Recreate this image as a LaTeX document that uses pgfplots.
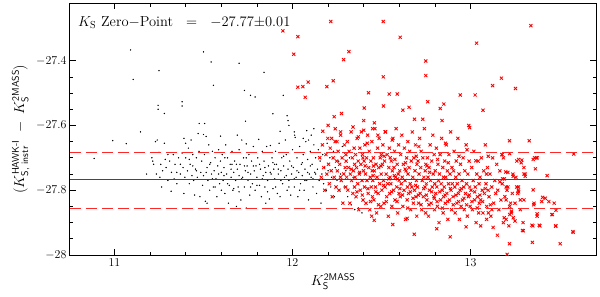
\documentclass[border=0pt]{standalone}
\usepackage{amsmath}
\usepackage{pgfplots}
\pgfplotsset{compat=1.18}
\definecolor{zpred}{RGB}{255,0,0}
\definecolor{zpline}{RGB}{240,0,0}
\definecolor{zpdash}{RGB}{255,40,40}
\begin{document}
\begin{tikzpicture}
\begin{axis}[name=ax,width=526pt,height=252pt,scale only axis,
  xmin=10.75,xmax=13.705,ymin=-28,ymax=-27.222,
  xtick={11,12,13},minor x tick num=4,
  ytick={-28,-27.8,-27.6,-27.4},minor y tick num=3,
  tick pos=both,tick align=inside,major tick length=6pt,minor tick length=3.5pt,
  every tick/.style={black,line width=0.7pt},axis line style={line width=1pt},
  yticklabel style={/pgf/number format/fixed,/pgf/number format/precision=1},
  tick label style={font=\fontsize{12}{14}\selectfont},
  label style={font=\fontsize{14}{16}\selectfont},
  xlabel={$K_{\text{\sffamily S}}^{\text{\sffamily 2MASS}}$},
  ylabel={$(K^{\text{\sffamily HAWK-I}}_{\text{\sffamily S, instr}}\;-\;K^{\text{\sffamily 2MASS}}_{\text{\sffamily S}})$},
  clip=true]
% black: stars fainter than the cut
\addplot[only marks,mark=*,mark size=0.45pt,black] coordinates {
(10.886,-27.702) (10.99,-27.647) (11.066,-27.656) (11.09,-27.367) (11.105,-27.458) (11.146,-27.62) (11.18,-27.75) (11.25,-27.431) (11.245,-27.538) (11.245,-27.55) (11.28,-27.563) (11.38,-27.527) (11.38,-27.54) (11.5,-27.373) (11.543,-27.404) (11.556,-27.476) (11.70,-27.408) (11.84,-27.436) (11.73,-27.492) (11.764,-27.507) (11.79,-27.512) (11.948,-27.507) (11.89,-27.564) (11.97,-27.57) (11.975,-27.585) (11.98,-27.60) (11.93,-27.618) (12.01,-27.62) (12.012,-27.63) (11.476,-27.594) (11.736,-27.587) (11.506,-27.594)
(12.12,-27.61) (12.105,-27.63) (12.09,-27.645) (12.06,-27.64) (12.08,-27.616)
(11.21,-27.70) (11.215,-27.71) (11.22,-27.72) (11.23,-27.65) (11.24,-27.645) (11.25,-27.683) (11.26,-27.72) (11.27,-27.74) (11.255,-27.76) (11.28,-27.655) (11.29,-27.73) (11.3,-27.77) (11.265,-27.79) (11.3,-27.69) (11.235,-27.75)
(11.31,-27.71) (11.318,-27.803) (11.32,-27.745) (11.33,-27.69) (11.335,-27.765) (11.34,-27.72) (11.35,-27.78) (11.36,-27.70) (11.37,-27.75) (11.38,-27.685) (11.385,-27.73) (11.39,-27.81) (11.39,-27.64) (11.395,-27.76) (11.40,-27.655) (11.40,-27.70)
(11.41,-27.74) (11.415,-27.67) (11.42,-27.78) (11.425,-27.72) (11.43,-27.645) (11.435,-27.755) (11.44,-27.69) (11.445,-27.77) (11.45,-27.815) (11.455,-27.735) (11.46,-27.70) (11.465,-27.76) (11.47,-27.625) (11.475,-27.68) (11.48,-27.82) (11.485,-27.745) (11.49,-27.71) (11.495,-27.785) (11.5,-27.755)
(11.50,-27.628) (11.505,-27.69) (11.51,-27.834) (11.515,-27.634) (11.52,-27.84) (11.52,-27.73) (11.525,-27.77) (11.53,-27.66) (11.535,-27.80) (11.54,-27.715) (11.545,-27.75) (11.55,-27.68) (11.555,-27.79) (11.56,-27.74) (11.565,-27.70) (11.57,-27.765) (11.575,-27.82) (11.58,-27.725) (11.585,-27.675) (11.59,-27.78) (11.596,-27.633) (11.60,-27.745) (11.595,-27.71)
(11.605,-27.69) (11.61,-27.77) (11.615,-27.73) (11.62,-27.81) (11.625,-27.66) (11.63,-27.75) (11.635,-27.70) (11.64,-27.84) (11.645,-27.785) (11.65,-27.72) (11.655,-27.76) (11.66,-27.68) (11.665,-27.80) (11.67,-27.745) (11.675,-27.71) (11.68,-27.77) (11.685,-27.85) (11.69,-27.63) (11.69,-27.735) (11.695,-27.79) (11.70,-27.675) (11.70,-27.755)
(11.705,-27.72) (11.71,-27.83) (11.715,-27.645) (11.72,-27.76) (11.725,-27.70) (11.73,-27.79) (11.735,-27.74) (11.74,-27.657) (11.74,-27.855) (11.745,-27.725) (11.75,-27.77) (11.755,-27.69) (11.76,-27.815) (11.765,-27.75) (11.77,-27.71) (11.775,-27.78) (11.78,-27.665) (11.785,-27.74) (11.79,-27.80) (11.795,-27.725) (11.80,-27.76)
(11.805,-27.70) (11.81,-27.643) (11.815,-27.785) (11.82,-27.735) (11.825,-27.82) (11.83,-27.68) (11.835,-27.755) (11.84,-27.71) (11.845,-27.79) (11.85,-27.745) (11.855,-27.665) (11.86,-27.77) (11.865,-27.725) (11.87,-27.827) (11.876,-27.662) (11.88,-27.75) (11.885,-27.70) (11.89,-27.795) (11.895,-27.735) (11.90,-27.765) (11.85,-27.84)
(11.905,-27.68) (11.91,-27.72) (11.915,-27.81) (11.92,-27.75) (11.925,-27.655) (11.93,-27.82) (11.935,-27.74) (11.94,-27.70) (11.945,-27.78) (11.95,-27.725) (11.955,-27.76) (11.96,-27.645) (11.965,-27.69) (11.97,-27.80) (11.975,-27.735) (11.98,-27.77) (11.985,-27.71) (11.99,-27.815) (11.995,-27.75) (12.00,-27.675)
(12.005,-27.73) (12.01,-27.79) (12.015,-27.637) (12.02,-27.76) (12.025,-27.70) (12.03,-27.82) (12.035,-27.745) (12.04,-27.665) (12.045,-27.78) (12.05,-27.72) (12.055,-27.755) (12.06,-27.69) (12.065,-27.80) (12.07,-27.735) (12.075,-27.65) (12.08,-27.77) (12.085,-27.705) (12.09,-27.83) (12.095,-27.75) (12.10,-27.68)
(12.105,-27.76) (12.11,-27.72) (12.115,-27.79) (12.12,-27.66) (12.125,-27.745) (12.13,-27.70) (12.135,-27.81) (12.14,-27.735) (12.145,-27.675) (12.15,-27.77) (12.155,-27.71) (12.16,-27.84) (12.165,-27.75) (12.17,-27.69) (12.175,-27.78) (12.18,-27.73) (12.19,-27.80) (12.195,-27.655)
(12.2,-27.74) (12.21,-27.70) (12.215,-27.79) (12.22,-27.76) (12.23,-27.68) (12.235,-27.82) (12.24,-27.73) (12.25,-27.77) (12.26,-27.71) (12.265,-27.80) (12.27,-27.75) (12.28,-27.665) (12.29,-27.79) (12.30,-27.74) (12.31,-27.82) (12.32,-27.70) (12.33,-27.845) (12.34,-27.76) (12.35,-27.86) (12.37,-27.855) (12.39,-27.87)
(11.515,-27.745) (11.535,-27.72) (11.55,-27.765) (11.565,-27.79) (11.585,-27.75) (11.60,-27.80) (11.615,-27.755) (11.635,-27.78) (11.655,-27.735) (11.67,-27.795)
(11.685,-27.72) (11.70,-27.805) (11.715,-27.765) (11.73,-27.725) (11.75,-27.745) (11.765,-27.79) (11.78,-27.725) (11.80,-27.785) (11.815,-27.72) (11.83,-27.765)
(11.845,-27.73) (11.86,-27.805) (11.875,-27.745) (11.89,-27.715) (11.905,-27.79) (11.92,-27.735) (11.935,-27.77) (11.95,-27.695) (11.965,-27.755) (11.98,-27.79)
(11.995,-27.725) (12.01,-27.765) (12.025,-27.74) (12.04,-27.80) (12.055,-27.715) (12.07,-27.77) (12.085,-27.745) (12.10,-27.725) (12.115,-27.765) (12.13,-27.75)
(11.44,-27.725) (11.46,-27.74) (11.42,-27.705) (11.37,-27.72) (11.35,-27.745) (11.285,-27.705) (11.62,-27.70) (11.66,-27.72) (11.74,-27.70) (11.90,-27.72)
};
% red: stars used for the zero point
\addplot[only marks,mark=x,mark size=2.2pt,zpred,mark options={line width=0.85pt}] coordinates {
(11.946,-27.308) (12.007,-27.38) (12.03,-27.326) (12.03,-27.482) (12.215,-27.279) (12.51,-27.279) (13.339,-27.292) (12.605,-27.328) (13.034,-27.346) (12.317,-27.372) (12.287,-27.397) (12.749,-27.401) (12.749,-27.446) (12.51,-27.45) (13.174,-27.454) (13.124,-27.477) (13.253,-27.486) (12.058,-27.48) (12.088,-27.466) (12.071,-27.513) (12.193,-27.48) (12.229,-27.462) (12.427,-27.499) (12.543,-27.503) (12.588,-27.503) (12.942,-27.506) (13.026,-27.506) (12.76,-27.527) (12.85,-27.534) (12.83,-27.548) (13.07,-27.553) (12.403,-27.546) (12.511,-27.54) (12.62,-27.553) (12.655,-27.544) (12.275,-27.563) (12.234,-27.573) (12.40,-27.585) (12.46,-27.592) (12.685,-27.581) (12.732,-27.581) (12.84,-27.585) (12.99,-27.60) (12.995,-27.607) (13.219,-27.647) (13.33,-27.647)
(12.684,-27.936) (12.81,-27.919) (12.886,-27.944) (12.563,-27.906) (12.644,-27.887) (12.459,-27.893) (12.445,-27.88) (12.975,-27.913) (13.057,-27.91) (13.127,-27.915) (13.151,-27.939) (13.219,-27.965) (13.206,-27.998) (13.292,-27.924) (13.348,-27.961) (13.345,-27.908) (13.386,-27.908) (13.504,-27.965) (13.478,-27.911) (13.575,-27.928) (13.457,-27.875) (13.48,-27.862) (13.42,-27.825) (13.40,-27.835) (13.374,-27.873) (13.357,-27.84) (13.43,-27.755) (13.352,-27.799) (13.58,-27.688) (13.374,-27.70) (13.352,-27.705) (13.307,-27.75) (13.307,-27.757) (13.238,-27.75) (13.198,-27.744) (13.22,-27.687) (13.288,-27.707) (13.176,-27.69) (13.10,-27.695) (13.03,-27.709) (13.09,-27.75) (13.165,-27.774) (13.27,-27.79) (13.268,-27.80) (13.265,-27.81) (13.30,-27.83) (13.25,-27.84) (13.28,-27.83) (13.22,-27.85) (13.23,-27.865) (13.22,-27.875) (13.24,-27.885) (13.19,-27.885) (13.20,-27.89) (13.185,-27.90) (13.12,-27.86) (13.10,-27.87) (13.09,-27.89)
(13.178,-27.69) (13.27,-27.705) (13.285,-27.715) (13.30,-27.73) (13.36,-27.70) (13.37,-27.70) (13.365,-27.734) (13.21,-27.745) (13.24,-27.757) (13.30,-27.75) (13.18,-27.765) (13.19,-27.765) (13.2,-27.79) (13.205,-27.80) (13.26,-27.79) (13.27,-27.805) (13.405,-27.822) (13.44,-27.835) (13.47,-27.84) (13.20,-27.83) (13.225,-27.84) (13.23,-27.87) (13.25,-27.895) (13.295,-27.90) (13.215,-27.91) (13.355,-27.845) (13.374,-27.88) (13.46,-27.875) (13.48,-27.91) (13.35,-27.91) (13.39,-27.91) (13.296,-27.925) (13.577,-27.93)
(12.17,-27.618) (12.20,-27.60) (12.24,-27.61) (12.27,-27.62) (12.22,-27.64) (12.25,-27.65) (12.34,-27.605) (12.40,-27.615) (12.45,-27.61) (12.52,-27.62) (12.37,-27.635) (12.48,-27.63)
(12.153,-27.70) (12.162,-27.76) (12.168,-27.66) (12.175,-27.73) (12.181,-27.80) (12.188,-27.69) (12.193,-27.75) (12.198,-27.64)
(12.202,-27.72) (12.207,-27.78) (12.212,-27.67) (12.218,-27.74) (12.223,-27.82) (12.228,-27.70) (12.234,-27.76) (12.239,-27.65) (12.244,-27.79) (12.248,-27.71)
(12.252,-27.74) (12.256,-27.68) (12.261,-27.80) (12.265,-27.72) (12.270,-27.63) (12.274,-27.77) (12.279,-27.70) (12.283,-27.84) (12.288,-27.75) (12.292,-27.66) (12.296,-27.73) (12.299,-27.79)
(12.301,-27.71) (12.304,-27.76) (12.308,-27.65) (12.311,-27.80) (12.315,-27.73) (12.318,-27.68) (12.322,-27.84) (12.325,-27.75) (12.329,-27.62) (12.332,-27.77) (12.336,-27.70) (12.339,-27.81) (12.343,-27.74) (12.346,-27.67) (12.348,-27.79) (12.349,-27.72)
(12.351,-27.76) (12.354,-27.69) (12.357,-27.82) (12.360,-27.73) (12.363,-27.64) (12.366,-27.78) (12.369,-27.71) (12.372,-27.86) (12.375,-27.75) (12.378,-27.67) (12.381,-27.80) (12.384,-27.72) (12.387,-27.62) (12.390,-27.77) (12.393,-27.69) (12.396,-27.83) (12.399,-27.74)
(12.402,-27.71) (12.404,-27.79) (12.407,-27.66) (12.410,-27.75) (12.413,-27.84) (12.416,-27.70) (12.419,-27.77) (12.422,-27.63) (12.425,-27.81) (12.428,-27.73) (12.431,-27.68) (12.434,-27.86) (12.437,-27.76) (12.440,-27.71) (12.443,-27.79) (12.446,-27.65) (12.448,-27.74) (12.449,-27.82)
(12.451,-27.77) (12.454,-27.70) (12.457,-27.83) (12.460,-27.74) (12.463,-27.61) (12.466,-27.79) (12.469,-27.72) (12.472,-27.87) (12.475,-27.76) (12.478,-27.67) (12.481,-27.81) (12.484,-27.73) (12.487,-27.64) (12.490,-27.78) (12.493,-27.70) (12.496,-27.85) (12.498,-27.75) (12.499,-27.69)
(12.502,-27.80) (12.505,-27.72) (12.508,-27.66) (12.511,-27.77) (12.514,-27.84) (12.517,-27.71) (12.520,-27.79) (12.523,-27.62) (12.526,-27.75) (12.529,-27.82) (12.532,-27.69) (12.535,-27.78) (12.538,-27.88) (12.541,-27.73) (12.544,-27.67) (12.546,-27.81) (12.548,-27.76) (12.549,-27.70)
(12.552,-27.78) (12.555,-27.71) (12.558,-27.85) (12.561,-27.74) (12.564,-27.64) (12.567,-27.80) (12.570,-27.73) (12.573,-27.68) (12.576,-27.83) (12.579,-27.76) (12.582,-27.61) (12.585,-27.79) (12.588,-27.72) (12.591,-27.87) (12.594,-27.75) (12.596,-27.66) (12.598,-27.81) (12.599,-27.77)
(12.602,-27.74) (12.605,-27.82) (12.608,-27.69) (12.611,-27.78) (12.614,-27.63) (12.617,-27.76) (12.620,-27.85) (12.623,-27.72) (12.626,-27.80) (12.629,-27.67) (12.632,-27.77) (12.635,-27.89) (12.638,-27.74) (12.641,-27.70) (12.644,-27.83) (12.646,-27.79) (12.648,-27.65) (12.649,-27.75)
(12.652,-27.81) (12.655,-27.73) (12.658,-27.68) (12.661,-27.78) (12.664,-27.86) (12.667,-27.71) (12.670,-27.79) (12.673,-27.62) (12.676,-27.76) (12.679,-27.84) (12.682,-27.70) (12.685,-27.80) (12.688,-27.74) (12.691,-27.66) (12.694,-27.82) (12.696,-27.77) (12.698,-27.88) (12.699,-27.72)
(12.702,-27.79) (12.705,-27.71) (12.708,-27.84) (12.711,-27.75) (12.714,-27.64) (12.717,-27.81) (12.720,-27.73) (12.723,-27.68) (12.726,-27.86) (12.729,-27.77) (12.732,-27.70) (12.735,-27.82) (12.738,-27.76) (12.741,-27.61) (12.744,-27.79) (12.746,-27.74) (12.748,-27.87) (12.749,-27.72)
(12.752,-27.78) (12.755,-27.83) (12.758,-27.70) (12.761,-27.76) (12.764,-27.88) (12.767,-27.73) (12.770,-27.80) (12.773,-27.66) (12.776,-27.77) (12.779,-27.84) (12.782,-27.71) (12.785,-27.79) (12.788,-27.63) (12.791,-27.75) (12.794,-27.82) (12.796,-27.69) (12.798,-27.86) (12.799,-27.78)
(12.802,-27.74) (12.805,-27.81) (12.808,-27.67) (12.811,-27.79) (12.814,-27.85) (12.817,-27.72) (12.820,-27.77) (12.823,-27.90) (12.826,-27.75) (12.829,-27.69) (12.832,-27.83) (12.835,-27.78) (12.838,-27.64) (12.841,-27.80) (12.844,-27.73) (12.846,-27.87) (12.848,-27.76) (12.849,-27.82)
(12.852,-27.79) (12.855,-27.71) (12.858,-27.84) (12.861,-27.76) (12.864,-27.66) (12.867,-27.81) (12.870,-27.74) (12.873,-27.89) (12.876,-27.78) (12.879,-27.69) (12.882,-27.83) (12.885,-27.75) (12.888,-27.62) (12.891,-27.80) (12.894,-27.86) (12.896,-27.73) (12.898,-27.78)
(12.902,-27.82) (12.905,-27.74) (12.908,-27.68) (12.911,-27.79) (12.914,-27.87) (12.917,-27.76) (12.920,-27.71) (12.923,-27.84) (12.926,-27.78) (12.929,-27.64) (12.932,-27.81) (12.935,-27.75) (12.938,-27.89) (12.941,-27.80) (12.944,-27.72) (12.947,-27.85)
(12.952,-27.77) (12.955,-27.83) (12.958,-27.70) (12.962,-27.79) (12.965,-27.86) (12.968,-27.74) (12.972,-27.81) (12.975,-27.66) (12.978,-27.78) (12.982,-27.88) (12.985,-27.75) (12.988,-27.82) (12.992,-27.71) (12.995,-27.79) (12.998,-27.85)
(13.003,-27.80) (13.007,-27.73) (13.011,-27.86) (13.015,-27.77) (13.019,-27.68) (13.023,-27.83) (13.027,-27.79) (13.031,-27.90) (13.035,-27.75) (13.039,-27.82) (13.043,-27.71) (13.046,-27.87) (13.048,-27.78) (13.049,-27.84)
(13.053,-27.76) (13.057,-27.83) (13.061,-27.70) (13.066,-27.80) (13.070,-27.87) (13.074,-27.74) (13.078,-27.81) (13.083,-27.66) (13.087,-27.78) (13.091,-27.85) (13.095,-27.73) (13.099,-27.80)
(13.104,-27.82) (13.109,-27.75) (13.114,-27.88) (13.119,-27.79) (13.124,-27.70) (13.130,-27.84) (13.136,-27.77) (13.142,-27.81) (13.147,-27.72)
(13.153,-27.80) (13.159,-27.86) (13.165,-27.74) (13.171,-27.83) (13.178,-27.78) (13.185,-27.70) (13.193,-27.82)
(13.21,-27.79) (13.235,-27.81) (13.255,-27.76) (13.28,-27.86) (13.26,-27.71)
(12.362,-27.805) (12.377,-27.745) (12.392,-27.815) (12.408,-27.725) (12.423,-27.795) (12.438,-27.835) (12.453,-27.755) (12.468,-27.805) (12.483,-27.845) (12.497,-27.725)
(12.512,-27.785) (12.527,-27.835) (12.542,-27.765) (12.557,-27.805) (12.572,-27.755) (12.587,-27.835) (12.603,-27.795) (12.618,-27.815) (12.633,-27.735) (12.647,-27.855)
(12.662,-27.805) (12.677,-27.825) (12.692,-27.785) (12.707,-27.815) (12.722,-27.845) (12.737,-27.795) (12.752,-27.815) (12.767,-27.845) (12.782,-27.805) (12.797,-27.825)
(12.812,-27.835) (12.827,-27.805) (12.842,-27.855) (12.857,-27.815) (12.872,-27.835) (12.887,-27.795) (12.903,-27.845) (12.918,-27.815) (12.933,-27.835) (12.948,-27.795)
(12.963,-27.825) (12.978,-27.845) (12.993,-27.815) (13.008,-27.835) (13.023,-27.805) (13.038,-27.855) (13.053,-27.815) (13.068,-27.835) (13.083,-27.795) (13.112,-27.845)
(12.395,-27.70) (12.455,-27.725) (12.515,-27.695) (12.575,-27.705) (12.635,-27.715) (12.695,-27.695) (12.755,-27.725) (12.815,-27.705) (12.875,-27.715) (12.935,-27.695)
(12.42,-27.655) (12.56,-27.645) (12.71,-27.665) (12.86,-27.655) (12.98,-27.675) (12.30,-27.69) (12.33,-27.735) (12.27,-27.76) (12.59,-27.765) (12.77,-27.745)
};
\node[anchor=base west,inner sep=0pt,font=\fontsize{14.5}{17}\selectfont] at (rel axis cs:0.0152,0.906)
  {$K_{\text{S}}$ Zero$-$Point\hspace{0.9em}=\hspace{0.9em}$-$27.77$\pm$0.01};
\end{axis}
% the zero point and its scatter, in a second axis over the first
\begin{axis}[at={(ax.south west)},anchor=south west,width=526pt,height=252pt,scale only axis,
  xmin=10.75,xmax=13.705,ymin=-28,ymax=-27.222,hide axis,clip=true]
\addplot[draw=zpdash,line width=0.9pt,dash pattern=on 11pt off 5pt,mark=none] coordinates {(10.75,-27.683) (13.705,-27.683)};
\addplot[draw=zpdash,line width=0.9pt,dash pattern=on 11pt off 5pt,mark=none] coordinates {(10.75,-27.855) (13.705,-27.855)};
\addplot[draw=zpline,line width=1.8pt,mark=none] coordinates {(10.75,-27.767) (13.705,-27.767)};
\end{axis}
\pgfresetboundingbox
\path ([xshift=-70pt,yshift=-41pt]ax.south west) rectangle ([xshift=4pt,yshift=3pt]ax.north east);
\end{tikzpicture}
\end{document}
